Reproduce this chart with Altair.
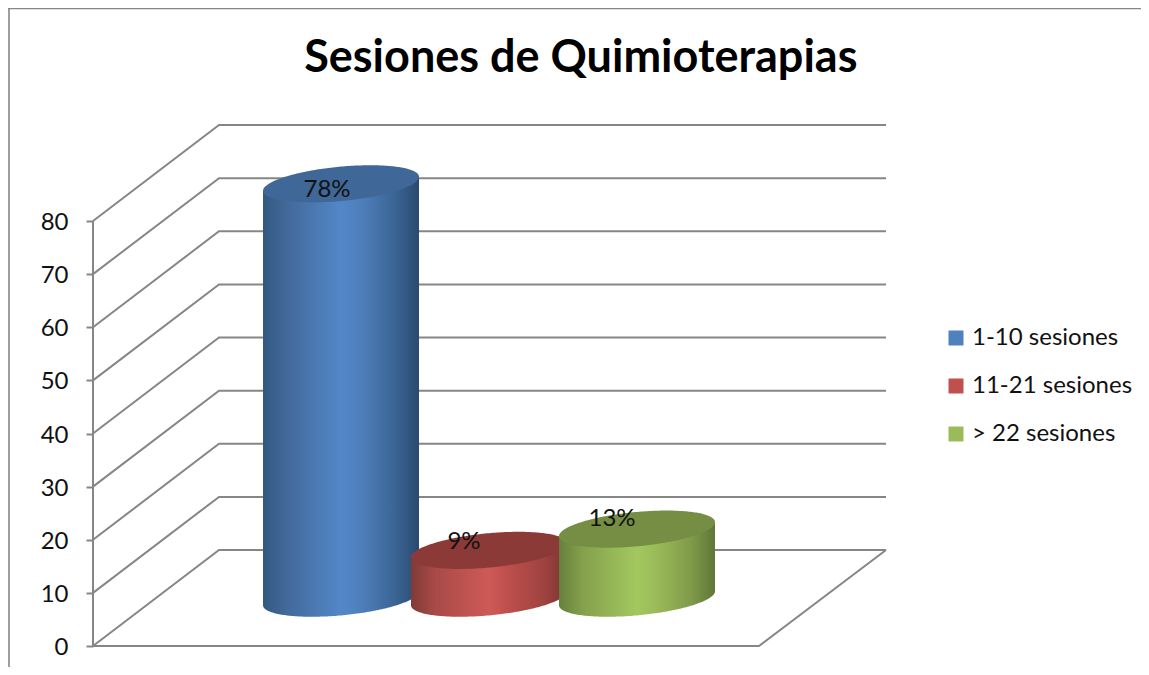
import altair as alt
import numpy as np
import pandas as pd

categories = ["1-10 sesiones", "11-21 sesiones", "> 22 sesiones"]
values = [78, 9, 13]
labels = ["78%", "9%", "13%"]
ticks = [0, 10, 20, 30, 40, 50, 60, 70, 80]
title_text = "Sesiones de Quimioterapias"

W, H = 1133, 659
PX = 5.3125              # pixels per value unit
BASE = 638               # chart-pixel row of value 0
DEPTH_X, DEPTH_V = 126, 96 / PX
X0 = 85
CX0, STEP, A = 333, 148, 78
SHEAR, B = 0.09, 17.2
FLOOR_V = 9
FONT = "Lato"
LINE = "#868686"
legend_colors = ["#4F81BD", "#C0504D", "#9BBB59"]

body_stops = [
    ["#34587F", "#42699A", "#5387C8", "#4F80BD", "#3A6494", "#2A4A6E"],
    ["#7F3A38", "#A84A47", "#CE5A56", "#BE4F4C", "#A04340", "#7A3432"],
    ["#66803C", "#84A04C", "#A3C85F", "#9BBB59", "#7F9A49", "#5F7638"],
]
top_colors = ["#3F6797", "#8C3A38", "#758E43"]
offsets = [0, 0.15, 0.5, 0.62, 0.85, 1]

xs = alt.X("x:Q", scale=alt.Scale(domain=[0, W], range=[0, W], nice=False, zero=False), axis=None)
ys = alt.Y(
    "y:Q",
    scale=alt.Scale(domain=[(BASE - H) / PX, BASE / PX], range=[H, 0], nice=False, zero=False),
    axis=alt.Axis(
        values=ticks, offset=-X0, title=None, domain=False, grid=False,
        tickColor=LINE, tickSize=7, tickWidth=2, labelFont=FONT, labelFontSize=24,
        labelColor="#111111", labelPadding=18, labelBaseline="middle", labelOverlap=False,
        labelFlush=False, labelOffset=1.5,
    ),
)

layers = []

# wall grid lines
rows = []
for t in ticks:
    rows += [
        {"x": X0, "y": t, "g": t, "o": 0},
        {"x": X0 + DEPTH_X, "y": t + DEPTH_V, "g": t, "o": 1},
        {"x": X0 + 793, "y": t + DEPTH_V, "g": t, "o": 2},
    ]
layers.append(
    alt.Chart(pd.DataFrame(rows)).mark_line(color=LINE, strokeWidth=2).encode(
        x=xs, y=ys, detail="g:N", order="o:Q"
    )
)

# left wall edge
layers.append(
    alt.Chart(pd.DataFrame({"x": [X0, X0], "y": [ticks[0], ticks[-1]]})).mark_line(
        color=LINE, strokeWidth=2
    ).encode(x=xs, y=ys)
)

# floor front and right edges
floor = pd.DataFrame({
    "x": [X0, X0 + 666, X0 + 793],
    "y": [0, 0, DEPTH_V],
})
layers.append(
    alt.Chart(floor).mark_line(color=LINE, strokeWidth=2).encode(x=xs, y=ys)
)

# frame
layers.append(alt.Chart(pd.DataFrame({"a": [0]})).mark_rule(color=LINE, strokeWidth=1.6).encode(
    x=alt.value(1), y=alt.value(0), y2=alt.value(H)))
layers.append(alt.Chart(pd.DataFrame({"a": [0]})).mark_rule(color=LINE, strokeWidth=1.6).encode(
    x=alt.value(0), x2=alt.value(W), y=alt.value(0.5)))

# cylinders
t = np.linspace(0, np.pi, 121)
u = -np.cos(t)
s = np.sqrt(np.clip(1 - u ** 2, 0, 1))
for i, v in enumerate(values):
    cx = CX0 + i * STEP
    xx = cx + A * u
    shear = SHEAR * A * u / PX
    low = FLOOR_V + shear - B * s / PX
    top_c = FLOOR_V + v + shear
    body = pd.DataFrame({"x": xx, "y": low, "y2": top_c})
    grad = alt.Gradient(
        gradient="linear", x1=0, x2=1, y1=0, y2=0,
        stops=[alt.GradientStop(color=c, offset=o) for c, o in zip(body_stops[i], offsets)],
    )
    layers.append(
        alt.Chart(body).mark_area(color=grad).encode(x=xs, y=ys, y2=alt.Y2("y2:Q"))
    )
    cap = pd.DataFrame({
        "x": xx,
        "y": top_c - B * s / PX,
        "y2": top_c + B * s / PX,
    })
    layers.append(
        alt.Chart(cap).mark_area(color=top_colors[i]).encode(x=xs, y=ys, y2=alt.Y2("y2:Q"))
    )

# value labels
dxs = [-14, -25, -25]
dys = [6, -8, -10]
for i, (v, lab) in enumerate(zip(values, labels)):
    df = pd.DataFrame({"x": [CX0 + i * STEP], "y": [FLOOR_V + v], "t": [lab]})
    layers.append(
        alt.Chart(df).mark_text(
            font=FONT, fontSize=24, color="#111111", dx=dxs[i], dy=dys[i], align="center", baseline="middle"
        ).encode(x=xs, y=ys, text="t:N")
    )

# legend carrier
leg = pd.DataFrame({"x": [0, 0, 0], "y": [0, 0, 0], "c": categories})
layers.append(
    alt.Chart(leg).mark_square(size=0, filled=True).encode(
        x=xs, y=ys,
        color=alt.Color(
            "c:N",
            sort=categories,
            scale=alt.Scale(domain=categories, range=legend_colors),
            legend=alt.Legend(
                title=None, orient="none", legendX=936, legendY=318, symbolType="square",
                symbolSize=225, symbolOpacity=1, symbolStrokeWidth=0, labelFont=FONT, labelFontSize=24,
                labelColor="#111111", labelOffset=4, rowPadding=24, padding=0, labelLimit=300,
            ),
        ),
    )
)

chart = alt.layer(*layers).properties(
    width=W, height=H, padding=0, autosize=alt.AutoSizeParams(type="none"),
    title=alt.TitleParams(
        title_text, font=FONT, fontSize=45, fontWeight="bold", color="#000000",
        anchor="start", dx=297, dy=78,
    ),
).configure_view(stroke=None)

chart.save("out.html", embed_options={"renderer": "svg", "actions": False})
